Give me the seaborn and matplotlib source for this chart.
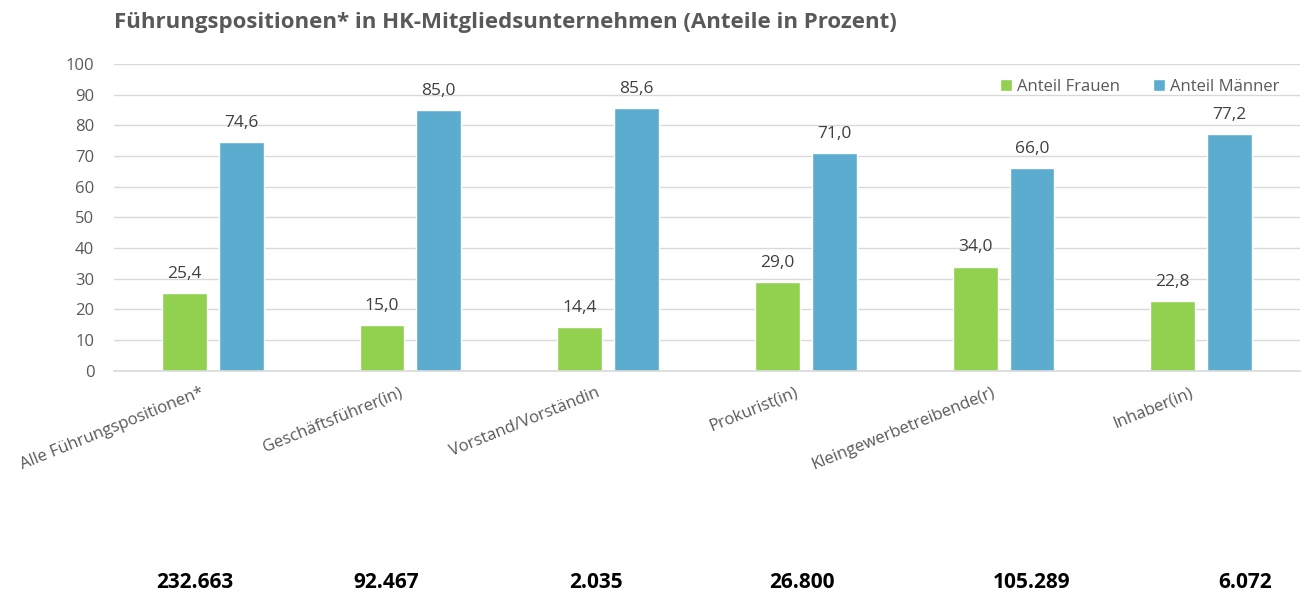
# Führungspositionen in HK-Mitgliedsunternehmen – grouped bar chart
import pandas as pd
import matplotlib.pyplot as plt
import seaborn as sns

# ──────────────────────────────────────────────
# Data
# ──────────────────────────────────────────────
CATEGORIES = ["Alle Führungspositionen*", "Geschäftsführer(in)", "Vorstand/Vorständin",
              "Prokurist(in)", "Kleingewerbetreibende(r)", "Inhaber(in)"]
FRAUEN = [25.4, 15.0, 14.4, 29.0, 34.0, 22.8]
MAENNER = [74.6, 85.0, 85.6, 71.0, 66.0, 77.2]
TOTALS = ["232.663", "92.467", "2.035", "26.800", "105.289", "6.072"]
SERIES = ["Anteil Frauen", "Anteil Männer"]

GREEN = "#92D050"
BLUE = "#5BACCF"
TEXT = "#595959"

df = pd.DataFrame({
    "Kategorie": CATEGORIES * 2,
    "Serie": [SERIES[0]] * len(CATEGORIES) + [SERIES[1]] * len(CATEGORIES),
    "Wert": FRAUEN + MAENNER,
})

sns.set_style("white")
plt.rcParams["font.family"] = ["Open Sans", "DejaVu Sans"]

fig = plt.figure(figsize=(13.08, 5.99), dpi=100)
ax = fig.add_axes([0.087, 0.381, 0.907, 0.512])

sns.barplot(data=df, x="Kategorie", y="Wert", hue="Serie",
            palette=[GREEN, BLUE], width=0.575, gap=0.21,
            saturation=1, ax=ax, legend=True)

for cont in ax.containers:
    ax.bar_label(cont, labels=[f"{v:.1f}".replace(".", ",") for v in cont.datavalues],
                 padding=8, fontsize=12.5, color="#404040")

ax.set_ylim(0, 100)
ax.set_xlim(-0.5, len(CATEGORIES) - 0.5)
ax.set_yticks(range(0, 101, 10))
ax.yaxis.grid(True, color="#D9D9D9", linewidth=1)
ax.set_axisbelow(True)
for s in ["top", "right", "left"]:
    ax.spines[s].set_visible(False)
ax.spines["bottom"].set_color("#D9D9D9")
ax.spines["bottom"].set_linewidth(1.2)
ax.tick_params(axis="both", length=0, colors=TEXT, labelsize=12)
ax.tick_params(axis="y", pad=14)
ax.set_xlabel("")
ax.set_ylabel("")
plt.setp(ax.get_xticklabels(), rotation=22, ha="right", rotation_mode="anchor")
ax.tick_params(axis="x", pad=10)
# shift the rotated labels a bit to the left, as in the original
import matplotlib.transforms as mtransforms
shift = mtransforms.ScaledTranslation(-12 / 100, 0, fig.dpi_scale_trans)
for lbl in ax.get_xticklabels():
    lbl.set_transform(lbl.get_transform() + shift)

leg = ax.legend(loc="upper right", bbox_to_anchor=(0.995, 1.0), ncol=2, frameon=False,
                fontsize=12, handlelength=0.7, handleheight=0.7, handletextpad=0.3,
                columnspacing=2.0, labelcolor=TEXT)

fig.text(0.087, 0.963, "Führungspositionen* in HK-Mitgliedsunternehmen (Anteile in Prozent)",
         fontsize=16, fontweight="bold", color=TEXT, ha="left", va="center")

# Totals row below the chart
offsets_px = [-18, -24, -12, -4, 28, 44]
for i, (t, off) in enumerate(zip(TOTALS, offsets_px)):
    x_fig = fig.transFigure.inverted().transform(ax.transData.transform((i, 0)))[0] + off / 1308
    fig.text(x_fig, 0.027, t, fontsize=15, fontweight="bold", color="black",
             ha="center", va="center")

fig.savefig("out.png", dpi=100)
